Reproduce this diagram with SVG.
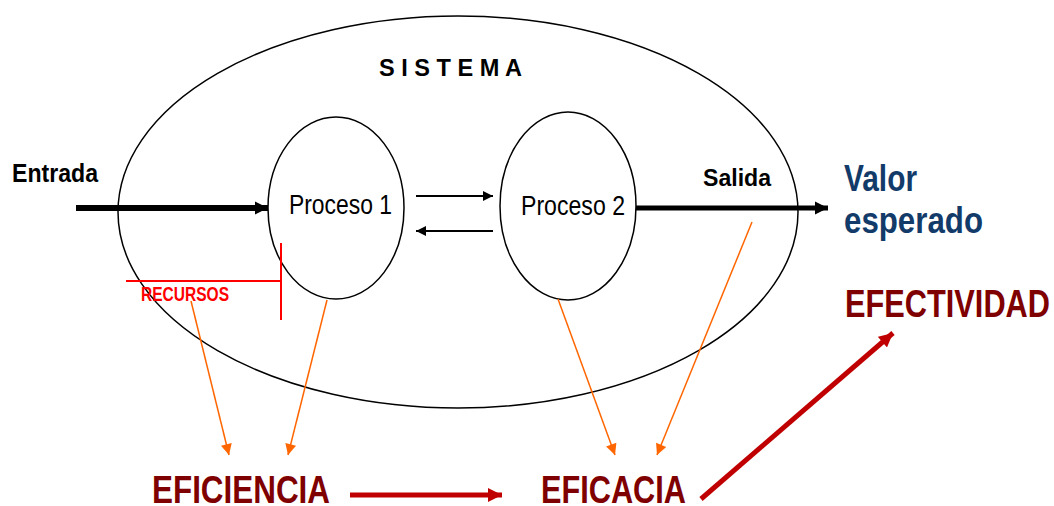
<svg xmlns="http://www.w3.org/2000/svg" width="1054" height="506" viewBox="0 0 1054 506">
<style>
text{font-family:"Liberation Sans",Arial,sans-serif}
.b{font-weight:bold}
.shape{fill:none;stroke:#000;stroke-width:1.5}
.org{stroke:#FF6600;stroke-width:1.5;fill:none}
.red{stroke:#C00000;stroke-width:5;fill:none}
.dr{fill:#7F0000;font-weight:bold;font-size:39px}
</style>
<defs>
<marker id="ah" viewBox="0 0 10 10" refX="10" refY="5" markerUnits="userSpaceOnUse" markerWidth="13" markerHeight="15" orient="auto"><path d="M0,0L10,5L0,10z" fill="#000"/></marker>
<marker id="ahs" viewBox="0 0 10 10" refX="10" refY="5" markerUnits="userSpaceOnUse" markerWidth="10" markerHeight="11" orient="auto"><path d="M0,0L10,5L0,10z" fill="#000"/></marker>
<marker id="ao" viewBox="0 0 10 10" refX="10" refY="5" markerUnits="userSpaceOnUse" markerWidth="14" markerHeight="11" orient="auto"><path d="M0,0L10,5L0,10z" fill="#FF6600"/></marker>
<marker id="ar" viewBox="0 0 10 10" refX="10" refY="5" markerUnits="userSpaceOnUse" markerWidth="14" markerHeight="14" orient="auto"><path d="M0,0L10,5L0,10z" fill="#C00000"/></marker>
</defs>
<g id="sistema">
<ellipse class="shape" cx="458" cy="212" rx="340" ry="196"/>
<text class="b" x="379" y="76" font-size="24" textLength="143" lengthAdjust="spacingAndGlyphs">S I S T E M A</text>
</g>
<g id="proceso1">
<ellipse class="shape" cx="336" cy="208" rx="68" ry="91"/>
<text x="289" y="214" font-size="27" textLength="103" lengthAdjust="spacingAndGlyphs">Proceso 1</text>
</g>
<g id="proceso2">
<ellipse class="shape" cx="568" cy="206" rx="68" ry="94"/>
<text x="521" y="215" font-size="27" textLength="104" lengthAdjust="spacingAndGlyphs">Proceso 2</text>
</g>
<g id="entrada">
<text class="b" x="12" y="182" font-size="26" textLength="86" lengthAdjust="spacingAndGlyphs">Entrada</text>
</g>
<g id="salida">
<text class="b" x="703" y="186" font-size="24" textLength="68" lengthAdjust="spacingAndGlyphs">Salida</text>
</g>
<g id="valor">
<text class="b" x="844" y="191" font-size="36" fill="#123B6A" textLength="73" lengthAdjust="spacingAndGlyphs">Valor</text>
<text class="b" x="844" y="233" font-size="36" fill="#123B6A" textLength="139" lengthAdjust="spacingAndGlyphs">esperado</text>
</g>
<g id="recursos">
<path d="M126,281H281M281,243V320" stroke="#FF0000" stroke-width="2" fill="none"/>
<text class="b" x="141" y="301" font-size="20" fill="#FF0000" textLength="88" lengthAdjust="spacingAndGlyphs">RECURSOS</text>
</g>
<g id="eficiencia">
<text class="dr" x="152" y="503" textLength="178" lengthAdjust="spacingAndGlyphs">EFICIENCIA</text>
</g>
<g id="eficacia">
<text class="dr" x="541" y="503" textLength="145" lengthAdjust="spacingAndGlyphs">EFICACIA</text>
</g>
<g id="efectividad">
<text class="dr" x="845" y="317" textLength="205" lengthAdjust="spacingAndGlyphs">EFECTIVIDAD</text>
</g>
<g id="connectors">
<line x1="76" y1="208" x2="268" y2="208" stroke="#000" stroke-width="6" marker-end="url(#ah)"/>
<line x1="636" y1="208" x2="828" y2="208" stroke="#000" stroke-width="5" marker-end="url(#ah)"/>
<line x1="416" y1="196" x2="493" y2="196" stroke="#000" stroke-width="1.8" marker-end="url(#ahs)"/>
<line x1="493" y1="231" x2="416" y2="231" stroke="#000" stroke-width="1.8" marker-end="url(#ahs)"/>
<line class="org" x1="191" y1="301" x2="229" y2="455" marker-end="url(#ao)"/>
<line class="org" x1="327" y1="300" x2="288" y2="455" marker-end="url(#ao)"/>
<line class="org" x1="558" y1="299" x2="615" y2="455" marker-end="url(#ao)"/>
<line class="org" x1="752" y1="222" x2="657" y2="455" marker-end="url(#ao)"/>
<line class="red" x1="350" y1="495" x2="502" y2="495" marker-end="url(#ar)"/>
<line class="red" x1="701" y1="499" x2="893" y2="333" marker-end="url(#ar)"/>
</g>
</svg>
